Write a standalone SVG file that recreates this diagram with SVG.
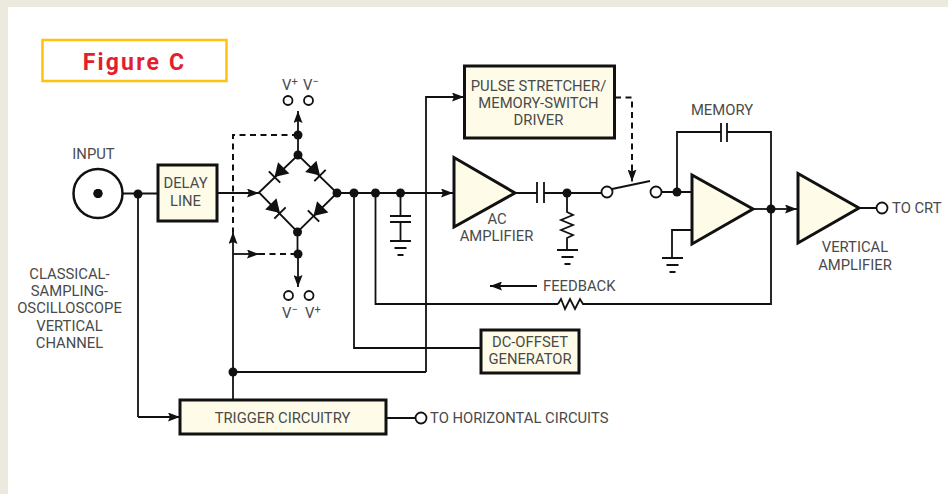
<svg xmlns="http://www.w3.org/2000/svg" width="948" height="494" viewBox="0 0 948 494">
<style>
text{font-family:"Roboto","Liberation Sans",sans-serif;font-size:14.800px;fill:#4a4a4a;text-anchor:middle}
.s{text-anchor:start}
.w{fill:none;stroke:#111;stroke-width:1.800}
.d{fill:none;stroke:#111;stroke-width:2;stroke-dasharray:6 4.500}
.b{fill:#FEFCE9;stroke:#111;stroke-width:3}
.o{fill:#fff;stroke:#111;stroke-width:1.800}
.p{fill:#111;stroke:none}
.k{fill:none;stroke:#111;stroke-width:2}
</style>
<defs>
<marker id="a" viewBox="0 0 12 9" refX="12" refY="4.500" markerWidth="12" markerHeight="9" markerUnits="userSpaceOnUse" orient="auto"><path d="M0 0L12 4.500L0 9L2 4.500Z" fill="#111"/></marker>
<g id="gnd"><path class="w" d="M-10.500 0H10.500M-6 7H6M-3 14H3"/></g>
<g id="dio"><path class="p" d="M-13 -8L0 0L-13 8Z"/><path class="k" d="M0 -8V8"/></g>
</defs>
<rect width="948" height="494" fill="#fff"/>
<path fill="#ECEADE" d="M0 0H948V7H8V494H0Z"/>
<g id="title"><rect x="42.500" y="40" width="184" height="41" fill="#fff" stroke="#FFC20E" stroke-width="2.500"/><text x="134.500" y="70" style="font-size:23px;font-weight:700;fill:#E31E2D;letter-spacing:2.200px">Figure C</text></g>
<g id="connectors">
<path class="w" d="M122 193.500H158M138 194V417" />
<path class="w" marker-end="url(#a)" d="M138 417H180"/>
<path class="w" marker-end="url(#a)" d="M217 193H259"/>
<path class="w" d="M259 192.500L298 155L337 193L297.500 232Z"/>
<path class="w" d="M298 155V135"/>
<path class="w" marker-end="url(#a)" d="M298 135V111"/>
<path class="w" d="M297.500 232V254"/>
<path class="w" marker-end="url(#a)" d="M298 254V287"/>
<path class="d" d="M298 135H233V232"/>
<path class="w" marker-end="url(#a)" d="M233 400V232"/>
<path class="w" marker-end="url(#a)" d="M233 254H259"/>
<path class="d" d="M259 254H298"/>
<path class="w" marker-end="url(#a)" d="M337 193H453"/>
<path class="w" d="M354 193V348H481M375.500 193V304H558M586 304H771V132H727M721 132H677V192M400.500 193V216M400.500 222V241"/>
<path class="w" d="M390 216H411M390 222H411"/>
<path class="w" d="M233 372H426"/>
<path class="w" marker-end="url(#a)" d="M426 372V97H464"/>
<path class="d" d="M615 97.500H632V170"/>
<path class="w" marker-end="url(#a)" d="M632 168V181.500"/>
<path class="w" d="M515 193H537M544 193H607M537 182V203M544 182V203M721 123V142M727 123V142"/>
<path class="w" d="M567 193V212L573 215L561 220L573 225L561 230L573 235L567 238V250"/>
<path class="w" d="M612 189L650 181"/>
<path class="w" d="M661 192H692M692 230H672V258"/>
<path class="w" d="M753 209H771"/>
<path class="w" marker-end="url(#a)" d="M771 209H797"/>
<path class="w" d="M859 208H877M386 418H416"/>
<path class="w" d="M558 304L561 299L565 309L570 299L575 309L580 299L583 304H586"/>
<path class="w" marker-end="url(#a)" d="M537 286H490"/>
</g>
<use href="#gnd" x="400.500" y="241"/><use href="#gnd" x="567.500" y="250"/><use href="#gnd" x="672.500" y="258"/>
<g id="diodes">
<use href="#dio" transform="translate(274.500 177) rotate(135)"/>
<use href="#dio" transform="translate(320 175.500) rotate(45)"/>
<use href="#dio" transform="translate(280 213) rotate(45)"/>
<use href="#dio" transform="translate(313.500 216) rotate(135)"/>
</g>
<g id="dots">
<circle class="p" cx="138" cy="194" r="4.500"/><circle class="p" cx="98" cy="193.500" r="4.500"/>
<circle class="p" cx="298" cy="135" r="4.500"/><circle class="p" cx="298" cy="155" r="4.500"/><circle class="p" cx="337" cy="193" r="4.500"/><circle class="p" cx="297.500" cy="232" r="4.500"/><circle class="p" cx="298" cy="254" r="4.500"/>
<circle class="p" cx="354" cy="193" r="4.500"/><circle class="p" cx="375.500" cy="193" r="4.500"/><circle class="p" cx="400.500" cy="193" r="4.500"/>
<circle class="p" cx="233" cy="372" r="4.500"/><circle class="p" cx="567" cy="193" r="4.500"/><circle class="p" cx="677" cy="192" r="4.500"/><circle class="p" cx="771" cy="209" r="4.500"/>
</g>
<g id="terminals">
<circle class="o" cx="288" cy="100.500" r="4.500"/><circle class="o" cx="308.500" cy="100.500" r="4.500"/><circle class="o" cx="288.500" cy="295.500" r="4.500"/><circle class="o" cx="309" cy="295.500" r="4.500"/>
<circle class="o" cx="607" cy="192" r="5.500"/><circle class="o" cx="656" cy="192" r="5.500"/><circle class="o" cx="882" cy="208" r="5.500"/><circle class="o" cx="421" cy="418" r="5.500"/>
</g>
<g id="input"><circle cx="98" cy="193.500" r="24.500" fill="none" stroke="#111" stroke-width="2.500"/><circle class="p" cx="98" cy="193.500" r="4.500"/><text x="93.500" y="159">INPUT</text></g>
<g id="delay"><rect class="b" x="158" y="165" width="59" height="56"/><text x="185.500" y="188">DELAY</text><text x="185.500" y="206">LINE</text></g>
<g id="pulse"><rect class="b" x="464.500" y="66" width="150" height="72"/><text x="538.500" y="91">PULSE STRETCHER/</text><text x="538.500" y="108">MEMORY-SWITCH</text><text x="538.500" y="125">DRIVER</text></g>
<g id="dc"><rect class="b" x="481" y="330" width="98" height="43"/><text x="530" y="347">DC-OFFSET</text><text x="530" y="364">GENERATOR</text></g>
<g id="trigger"><rect class="b" x="180" y="400" width="206" height="34"/><text x="282.500" y="423">TRIGGER CIRCUITRY</text></g>
<g id="acamp"><path class="b" d="M454 157.500V227L515 193Z"/><text x="497" y="224">AC</text><text x="496.500" y="241">AMPLIFIER</text></g>
<g id="memamp"><path class="b" d="M692 175V244L753 209Z"/></g>
<g id="vamp"><path class="b" d="M798 173.500V243L859 208Z"/><text x="855" y="252">VERTICAL</text><text x="855" y="270">AMPLIFIER</text></g>
<g id="labels">
<text x="722" y="115">MEMORY</text>
<text class="s" x="892" y="213">TO CRT</text>
<text class="s" x="430" y="423">TO HORIZONTAL CIRCUITS</text>
<text class="s" x="543" y="291">FEEDBACK</text>
<text x="69.500" y="279">CLASSICAL-</text><text x="69.500" y="296">SAMPLING-</text><text x="69.500" y="313">OSCILLOSCOPE</text><text x="69.500" y="331">VERTICAL</text><text x="69.500" y="348">CHANNEL</text>
<text class="s" x="282" y="90">V<tspan dy="-5" font-size="11">+</tspan></text><text class="s" x="303" y="90">V<tspan dy="-5" font-size="11">−</tspan></text>
<text class="s" x="282" y="318">V<tspan dy="-5" font-size="11">−</tspan></text><text class="s" x="305" y="318">V<tspan dy="-5" font-size="11">+</tspan></text>
</g>
</svg>
